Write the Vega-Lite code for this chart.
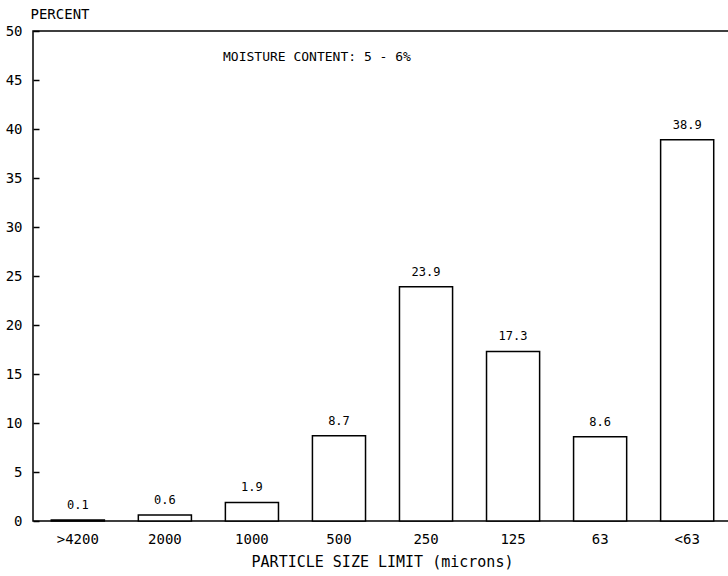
{
  "$schema": "https://vega.github.io/schema/vega-lite/v6.json",
  "width": 699,
  "height": 490,
  "autosize": {"type": "none"},
  "padding": {"left": 33, "top": 31, "right": 0, "bottom": 55},
  "background": "white",
  "config": {
    "font": "DejaVu Sans Mono",
    "view": {"stroke": "black", "strokeWidth": 1.5},
    "axis": {"labelColor": "black", "titleColor": "black", "labelFont": "DejaVu Sans Mono", "titleFont": "DejaVu Sans Mono", "titleFontWeight": "normal"}
  },
  "title": {
    "text": "MOISTURE CONTENT: 5 - 6%",
    "anchor": "start",
    "frame": "group",
    "dx": 190,
    "offset": -57,
    "fontSize": 13,
    "fontWeight": "normal",
    "font": "DejaVu Sans Mono",
    "color": "black"
  },
  "data": {
    "values": [
      {"size": ">4200", "percent": 0.1},
      {"size": "2000", "percent": 0.6},
      {"size": "1000", "percent": 1.9},
      {"size": "500", "percent": 8.7},
      {"size": "250", "percent": 23.9},
      {"size": "125", "percent": 17.3},
      {"size": "63", "percent": 8.6},
      {"size": "<63", "percent": 38.9}
    ]
  },
  "encoding": {
    "x": {
      "field": "size",
      "type": "nominal",
      "sort": null,
      "scale": {"paddingInner": 0.39, "paddingOuter": 0.21},
      "axis": {
        "title": "PARTICLE SIZE LIMIT (microns)",
        "titleFontSize": 15,
        "titlePadding": 8,
        "titleX": 349,
        "labelAngle": 0,
        "labelFontSize": 14,
        "labelPadding": 11,
        "ticks": false,
        "domain": false
      }
    },
    "y": {
      "field": "percent",
      "type": "quantitative",
      "scale": {"domain": [0, 50], "nice": false},
      "axis": {
        "title": "PERCENT",
        "titleAngle": 0,
        "titleAlign": "left",
        "titleBaseline": "middle",
        "titleX": -3,
        "titleY": -17,
        "titleFontSize": 14,
        "values": [0, 5, 10, 15, 20, 25, 30, 35, 40, 45, 50],
        "labelFontSize": 14,
        "ticks": true,
        "tickSize": -6,
        "tickColor": "black",
        "tickWidth": 1.5,
        "tickOpacity": 1,
        "labelPadding": 17,
        "grid": false,
        "domain": false,
        "zindex": 1
      }
    }
  },
  "layer": [
    {
      "mark": {"type": "bar", "fill": "white", "stroke": "black", "strokeWidth": 1.5}
    },
    {
      "mark": {"type": "text", "baseline": "bottom", "dy": -8, "fontSize": 12, "color": "black", "font": "DejaVu Sans Mono"},
      "encoding": {
        "text": {"field": "percent", "type": "quantitative", "format": ".1f"}
      }
    }
  ]
}
